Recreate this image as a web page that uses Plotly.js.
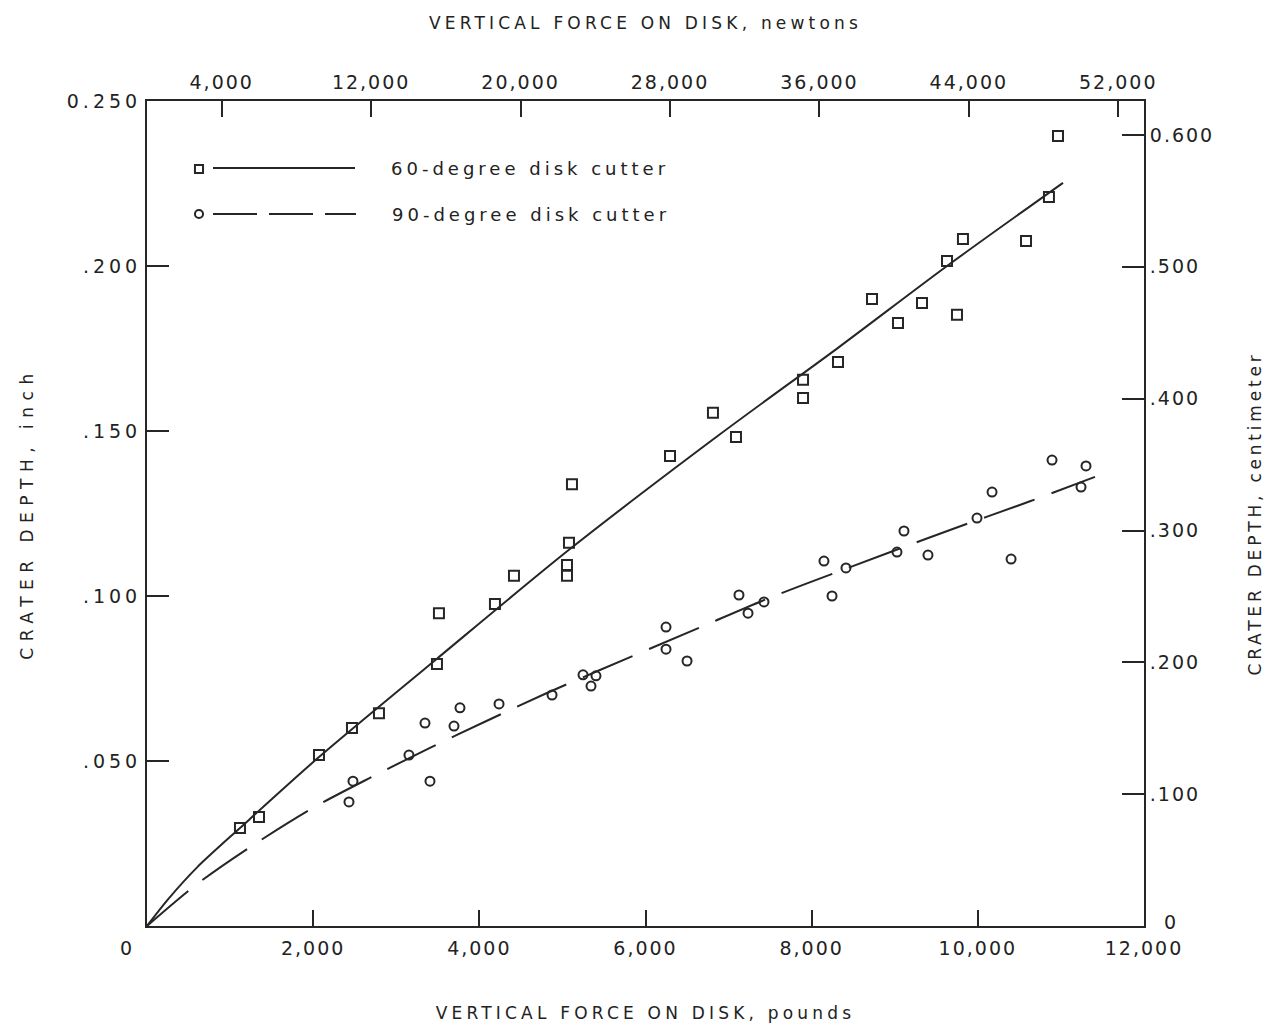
<!DOCTYPE html>
<html>
<head>
<meta charset="utf-8">
<script src="https://cdn.plot.ly/plotly-3.0.1.min.js"></script>
<style>
  body { margin: 0; background: #ffffff; }
  #chart { width: 1274px; height: 1030px; }
  .xtick text, .x2tick text, .y2tick text { letter-spacing: 2px; }
  .ytick text { letter-spacing: 4px; }
  .xtitle, .x2title { letter-spacing: 4.2px; }
  .ytitle { letter-spacing: 6.5px; }
  .y2title { letter-spacing: 3.8px; }
  .annotation-text { letter-spacing: 4px; }
</style>
</head>
<body>
<div id="chart"></div>
<script>
// ---- data (force in pounds, depth in inches) ----
const force60 = [1119, 1348, 2070, 2467, 2792, 3490, 3514, 4188, 4417, 5079, 5055, 5055, 5115, 6295,
                 6812, 7089, 7896, 7896, 8317, 8726, 9039, 9328, 9749, 9629, 9821, 10580, 10856, 10965];
const depth60 = [0.0297, 0.0330, 0.0518, 0.0600, 0.0645, 0.0794, 0.0948, 0.0976, 0.1061, 0.1161, 0.1094, 0.1061, 0.1339, 0.1424,
                 0.1555, 0.1482, 0.1655, 0.1600, 0.1709, 0.1900, 0.1827, 0.1888, 0.1852, 0.2015, 0.2082, 0.2076, 0.2209, 0.2394];

const force90 = [2431, 2479, 3153, 3346, 3406, 3695, 3767, 4237, 4875, 5248, 5404, 5344, 6247, 6247, 6500,
                 7125, 7234, 7426, 8148, 8245, 8413, 9027, 9111, 9400, 9990, 10171, 10400, 10893, 11302, 11242];
const depth90 = [0.0376, 0.0439, 0.0518, 0.0615, 0.0439, 0.0606, 0.0661, 0.0673, 0.0700, 0.0761, 0.0758, 0.0727, 0.0906, 0.0839, 0.0803,
                 0.1003, 0.0948, 0.0982, 0.1106, 0.1000, 0.1085, 0.1133, 0.1197, 0.1124, 0.1236, 0.1315, 0.1112, 0.1412, 0.1394, 0.1330];

// fitted curves as drawn
const fit60Force = [0, 250, 600, 1119, 2070, 3490, 5079, 6896, 8317, 9629, 11025];
const fit60Depth = [0, 0.0080, 0.0177, 0.0297, 0.0512, 0.0810, 0.1140, 0.1490, 0.1752, 0.2000, 0.2252];
const fit90Force = [0, 602, 1240, 1998, 2708, 3406, 4092, 4814, 5416, 6656, 7498, 8257, 9665, 10628, 11410];
const fit90Depth = [0, 0.0127, 0.0239, 0.0358, 0.0452, 0.0540, 0.0622, 0.0706, 0.0772, 0.0905, 0.0995, 0.1068, 0.1200, 0.1287, 0.1361];

// tick labels
const poundTicks = [2000, 4000, 6000, 8000, 10000, 12000];
const poundLabels = ['2,000', '4,000', '6,000', '8,000', '10,000', '12,000'];
const newtonTicks = [4000, 12000, 20000, 28000, 36000, 44000, 52000];
const newtonLabels = ['4,000', '12,000', '20,000', '28,000', '36,000', '44,000', '52,000'];
const inchTicks = [0.05, 0.10, 0.15, 0.20, 0.25];
const inchLabels = ['.050', '.100', '.150', '.200', '0.250'];
const cmTicks = [0, 0.1, 0.2, 0.3, 0.4, 0.5, 0.6];
const cmLabels = ['', '.100', '.200', '.300', '.400', '.500', '0.600'];
const seriesNames = ['60-degree disk cutter', '90-degree disk cutter'];

const INK = '#262626';
const TXT = '#222';
const FONT = 'DejaVu Sans, sans-serif';
const LBS_TO_N = 4.44822;

const traces = [
  { x: fit60Force, y: fit60Depth, mode: 'lines', line: { color: INK, width: 2, shape: 'spline', smoothing: 0.8 },
    name: seriesNames[0], showlegend: false, hoverinfo: 'skip' },
  { x: fit90Force, y: fit90Depth, mode: 'lines', line: { color: INK, width: 2, dash: '54px,18px', shape: 'spline', smoothing: 0.8 },
    name: seriesNames[1], showlegend: false, hoverinfo: 'skip' },
  { x: force60, y: depth60, mode: 'markers', name: seriesNames[0], showlegend: false,
    marker: { symbol: 'square-open', size: 10, color: INK, line: { width: 2, color: INK } } },
  { x: force90, y: depth90, mode: 'markers', name: seriesNames[1], showlegend: false,
    marker: { symbol: 'circle-open', size: 9, color: INK, line: { width: 2, color: INK } } },
  { x: [], y: [], xaxis: 'x2', yaxis: 'y2', showlegend: false, hoverinfo: 'skip' }
];

const tickFont = { family: FONT, size: 19, color: TXT };
const titleFont = { family: FONT, size: 17, color: TXT };
const yTitleFont = { family: FONT, size: 17, color: TXT };

const xMax = 12000, yMax = 0.25;

const layout = {
  width: 1274, height: 1030,
  margin: { l: 147, r: 130, t: 101, b: 104 },
  paper_bgcolor: '#ffffff', plot_bgcolor: '#ffffff',
  showlegend: false,
  xaxis: {
    range: [0, xMax], tickvals: poundTicks, ticktext: poundLabels,
    ticks: 'inside', ticklen: 16, tickwidth: 2, tickcolor: INK, ticklabelstandoff: 4,
    showline: true, linewidth: 2, linecolor: INK, showgrid: false, zeroline: false,
    tickfont: tickFont, automargin: false,
    title: { text: 'VERTICAL FORCE ON DISK, pounds', font: titleFont, standoff: 49 }
  },
  xaxis2: {
    overlaying: 'x', side: 'top', anchor: 'y',
    range: [0, xMax * LBS_TO_N], tickvals: newtonTicks, ticktext: newtonLabels,
    ticks: 'inside', ticklen: 16, tickwidth: 2, tickcolor: INK, ticklabelstandoff: 2,
    showline: true, linewidth: 2, linecolor: INK, showgrid: false, zeroline: false,
    tickfont: tickFont, automargin: false,
    title: { text: 'VERTICAL FORCE ON DISK, newtons', font: titleFont, standoff: 37 }
  },
  yaxis: {
    range: [0, yMax], tickvals: inchTicks, ticktext: inchLabels,
    ticks: 'inside', ticklen: 22, tickwidth: 2, tickcolor: INK,
    showline: true, linewidth: 2, linecolor: INK, showgrid: false, zeroline: false,
    tickfont: tickFont, automargin: false,
    title: { text: 'CRATER DEPTH, inch', font: yTitleFont, standoff: 29 }
  },
  yaxis2: {
    overlaying: 'y', side: 'right', anchor: 'x',
    range: [0, 0.6258], tickvals: cmTicks, ticktext: cmLabels,
    ticks: 'inside', ticklen: 22, tickwidth: 2, tickcolor: INK,
    showline: true, linewidth: 2, linecolor: INK, showgrid: false, zeroline: false,
    tickfont: tickFont, automargin: false,
    title: { text: 'CRATER DEPTH, centimeter', font: yTitleFont, standoff: 36 }
  },
  shapes: [
    // legend: 60-degree
    { type: 'rect', xref: 'paper', yref: 'paper', x0: 0.0481, x1: 0.0562, y0: 0.9127, y1: 0.9224,
      line: { color: INK, width: 2 } },
    { type: 'line', xref: 'paper', yref: 'paper', x0: 0.0662, x1: 0.2086, y0: 0.9188, y1: 0.9188,
      line: { color: INK, width: 2 } },
    // legend: 90-degree
    { type: 'circle', xref: 'paper', yref: 'paper', x0: 0.0481, x1: 0.0562, y0: 0.8582, y1: 0.8679,
      line: { color: INK, width: 2 } },
    { type: 'line', xref: 'paper', yref: 'paper', x0: 0.0662, x1: 0.2096, y0: 0.8630, y1: 0.8630,
      line: { color: INK, width: 2, dash: '44px,12px' } }
  ],
  annotations: [
    { text: seriesNames[0], xref: 'paper', yref: 'paper', x: 0.2427, y: 0.9176, xanchor: 'left', yanchor: 'middle',
      showarrow: false, font: { family: FONT, size: 18, color: TXT } },
    { text: seriesNames[1], xref: 'paper', yref: 'paper', x: 0.2437, y: 0.8630, xanchor: 'left', yanchor: 'middle',
      showarrow: false, font: { family: FONT, size: 18, color: TXT } },
    { text: '0', xref: 'paper', yref: 'paper', x: -0.019, y: -0.0267, xanchor: 'center', yanchor: 'middle',
      showarrow: false, font: tickFont },
    { text: '0', xref: 'paper', yref: 'paper', x: 1.028, y: 0.0050, xanchor: 'center', yanchor: 'middle',
      showarrow: false, font: tickFont }
  ]
};

Plotly.newPlot('chart', traces, layout, { displayModeBar: false, staticPlot: true });
</script>
</body>
</html>
